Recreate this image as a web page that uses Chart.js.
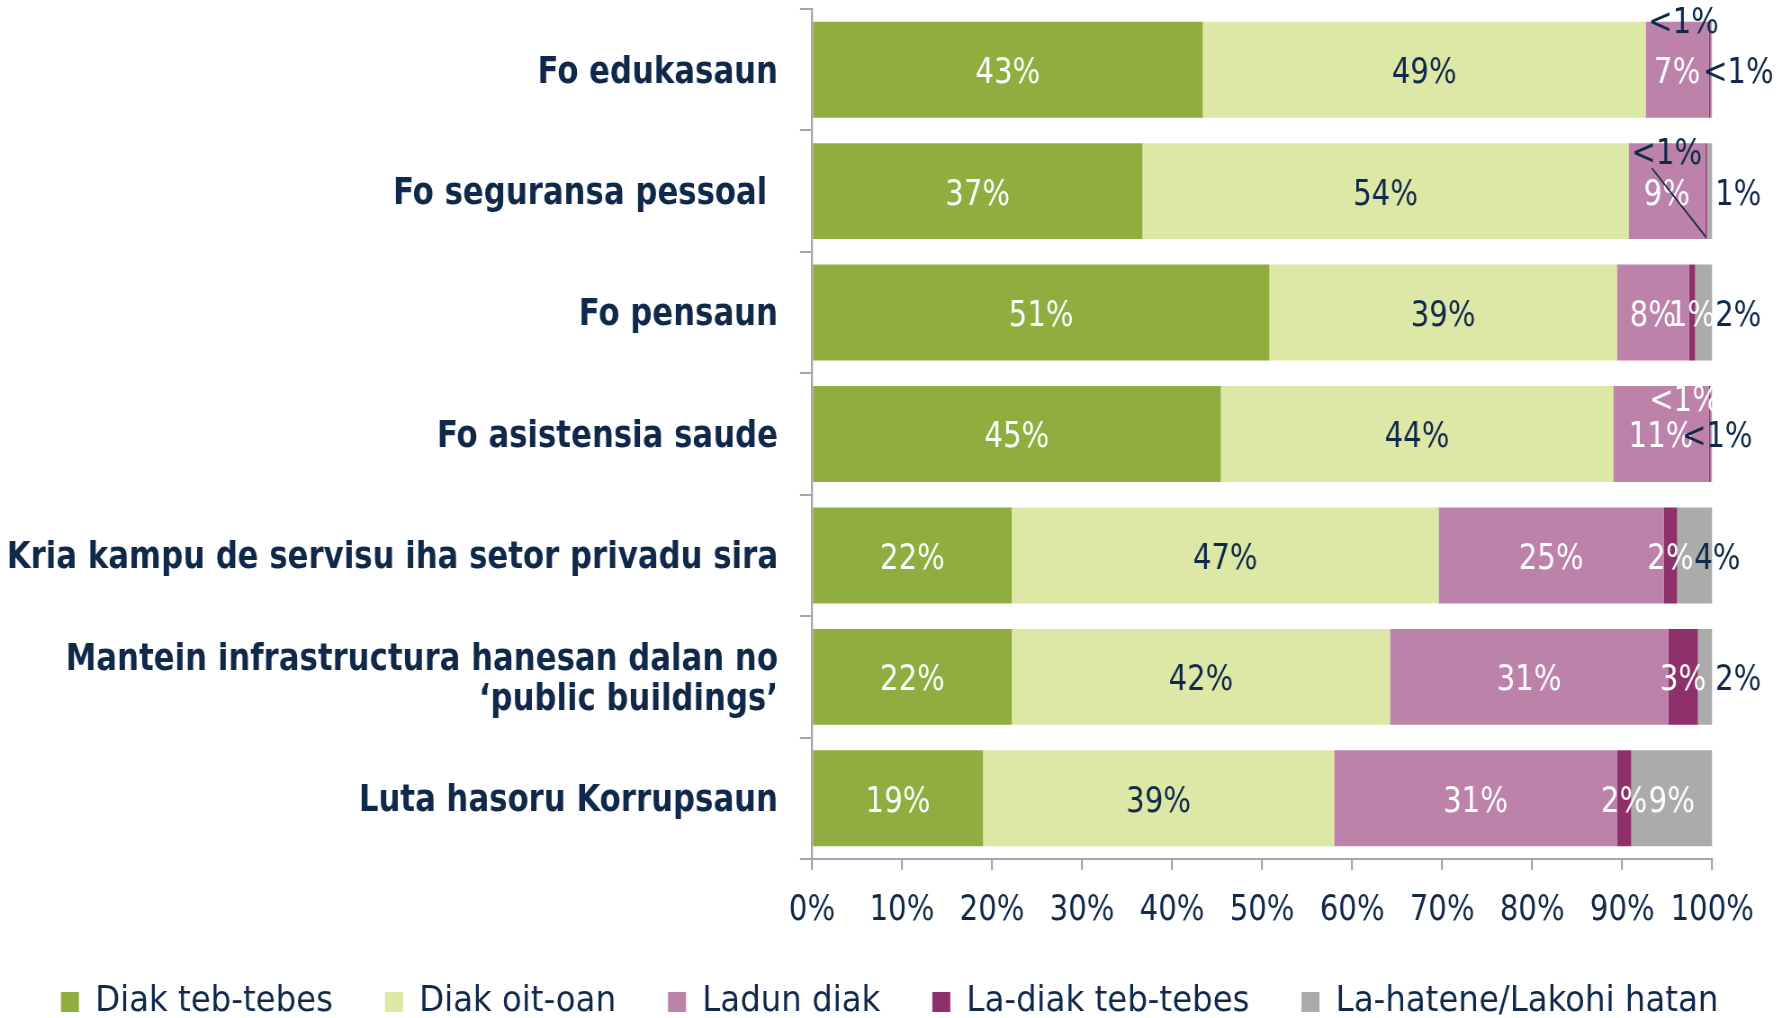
<!DOCTYPE html>
<html lang="tet">
<head>
<meta charset="UTF-8">
<title>Diak teb-tebes</title>
<script src="https://cdn.jsdelivr.net/npm/chart.js"></script>
<style>
  html, body { margin: 0; padding: 0; background: #fff; overflow: hidden; }
  #wrap { width: 1779px; height: 1018px; overflow: hidden; }
  /* the original uses a narrow face, so the canvas is drawn wider and squeezed */
  #chart { transform-origin: 0 0; }
</style>
</head>
<body>
<div id="wrap"><canvas id="chart"></canvas></div>
<script>
// categories (top to bottom)
const categories = [
  'Fo edukasaun',
  'Fo seguransa pessoal ',
  'Fo pensaun',
  'Fo asistensia saude',
  'Kria kampu de servisu iha setor privadu sira',
  ['Mantein infrastructura hanesan dalan no', '\u2018public buildings\u2019'],
  'Luta hasoru Korrupsaun'
];

// percentages per answer
const diakTebTebes   = [43.4, 36.7, 50.8, 45.4, 22.2, 22.2, 19.0];
const diakOitOan     = [49.2, 54.0, 38.6, 43.6, 47.4, 42.0, 39.0];
const ladunDiak      = [7.0, 8.5, 8.0, 10.6, 25.0, 30.9, 31.4];
const laDiakTebTebes = [0.2, 0.2, 0.7, 0.2, 1.5, 3.3, 1.6];
const laHatene       = [0.2, 0.6, 1.9, 0.2, 3.9, 1.6, 9.0];

const seriesNames = ['Diak teb-tebes', 'Diak oit-oan', 'Ladun diak', 'La-diak teb-tebes', 'La-hatene/Lakohi hatan'];
const xTicks = [0, 10, 20, 30, 40, 50, 60, 70, 80, 90, 100];

// where each value label sits (same order as the series)
const labelPlace = [
  ['in', 'in', 'in', 'in', 'in', 'in', 'in'],
  ['in', 'in', 'in', 'in', 'in', 'in', 'in'],
  ['in', 'in', 'in', 'in', 'in', 'in', 'in'],
  ['top', 'topLine', 'in', 'topIn', 'in', 'in', 'in'],
  ['out', 'out', 'out', 'edge', 'edge', 'out', 'in']
];

const colors = ['#8fae3f', '#dde8a6', '#bc82aa', '#8e306a', '#ababab'];
const navy = '#10294a';
const inBarText = ['#ffffff', navy, '#ffffff', '#ffffff', '#ffffff'];
const axisGrey = '#a6a6a6';
const fontFamily = "'DejaVu Sans Condensed', 'DejaVu Sans', sans-serif";

const W = 1779, H = 1018;
const squeeze = 0.9;
const sx = (v) => v / squeeze;   // horizontal screen px -> canvas px
const canvas = document.getElementById('chart');
canvas.width = Math.round(sx(W));
canvas.height = H;
canvas.style.transform = 'scaleX(' + squeeze + ')';

const legendSize = 36;
const legendPad = sx(52);
const plotBottom = 859;
const bottomPad = -12;
// legend box height in Chart.js = font + padding + 10
const xAxisHeight = H - bottomPad - (legendSize + legendPad + 10) - plotBottom;

function pctLabel(v) {
  return v < 0.5 ? '<1%' : Math.round(v) + '%';
}

// draws the percentages on the bars
const valueLabels = {
  id: 'valueLabels',
  afterDatasetsDraw(chart) {
    const ctx = chart.ctx;
    const right = chart.chartArea.right;
    ctx.save();
    ctx.font = '36px ' + fontFamily;
    ctx.textAlign = 'center';
    ctx.textBaseline = 'middle';
    chart.data.datasets.forEach((ds, i) => {
      const meta = chart.getDatasetMeta(i);
      meta.data.forEach((bar, j) => {
        const p = bar.getProps(['x', 'y', 'base', 'height'], true);
        const place = labelPlace[i][j];
        const txt = pctLabel(ds.data[j]);
        const top = p.y - p.height / 2;
        let x = (p.x + p.base) / 2, y = p.y, col = inBarText[i];
        if (place === 'top') { x = p.x - sx(27); y = top - 2; col = navy; }
        else if (place === 'topLine') {
          x = p.x - sx(40); y = top + 7; col = navy;
          ctx.strokeStyle = navy;
          ctx.lineWidth = 1.6;
          ctx.beginPath();
          ctx.moveTo(x - sx(15), y + 18);
          ctx.lineTo(p.x - 1, top + p.height - 2);
          ctx.stroke();
        }
        else if (place === 'topIn') { x = p.x - sx(26); y = top + 12; col = '#ffffff'; }
        else if (place === 'out') { x = right + sx(26); col = navy; }
        else if (place === 'edge') { x = right + sx(5); col = navy; }
        ctx.fillStyle = col;
        ctx.fillText(txt, x, y + 4);
      });
    });
    ctx.restore();
  }
};

const seriesData = [diakTebTebes, diakOitOan, ladunDiak, laDiakTebTebes, laHatene];

new Chart(canvas, {
  type: 'bar',
  data: {
    labels: categories,
    datasets: seriesNames.map((name, i) => ({
      label: name,
      data: seriesData[i],
      backgroundColor: colors[i],
      borderWidth: 0,
      barPercentage: 0.79,
      categoryPercentage: 1
    }))
  },
  options: {
    indexAxis: 'y',
    responsive: false,
    animation: false,
    devicePixelRatio: 1,
    layout: { padding: { top: 9, right: 0, left: 0, bottom: bottomPad } },
    scales: {
      x: {
        stacked: true,
        min: 0,
        max: 100,
        afterBuildTicks: (s) => { s.ticks = xTicks.map(v => ({ value: v })); },
        // room on the right for the outside labels, without narrowing the legend
        afterFit: (s) => { s.height = xAxisHeight; s.paddingLeft = 0; s.paddingRight = sx(67); },
        border: { display: true, color: axisGrey, width: 2 },
        grid: { drawOnChartArea: false, drawTicks: true, tickLength: 11, color: axisGrey, lineWidth: sx(2) },
        ticks: {
          color: navy,
          padding: 19,
          autoSkip: false,
          maxRotation: 0,
          font: { family: fontFamily, size: 36 },
          callback: (v) => v + '%'
        }
      },
      y: {
        stacked: true,
        afterFit: (s) => { s.width = sx(812); s.paddingTop = 0; s.paddingBottom = 0; },
        border: { display: true, color: axisGrey, width: sx(2) },
        grid: { offset: true, drawOnChartArea: false, drawTicks: true, tickLength: sx(12), color: axisGrey, lineWidth: 2 },
        ticks: {
          color: navy,
          padding: sx(22),
          labelOffset: 3,
          font: { family: fontFamily, size: 38, weight: 'bold', lineHeight: 1.05 }
        }
      }
    },
    plugins: {
      legend: {
        position: 'bottom',
        labels: {
          boxWidth: sx(18),
          boxHeight: 20,
          padding: legendPad,
          color: navy,
          font: { family: "'DejaVu Sans', sans-serif", size: legendSize }
        }
      },
      tooltip: { enabled: false }
    }
  },
  plugins: [valueLabels]
});
</script>
</body>
</html>
